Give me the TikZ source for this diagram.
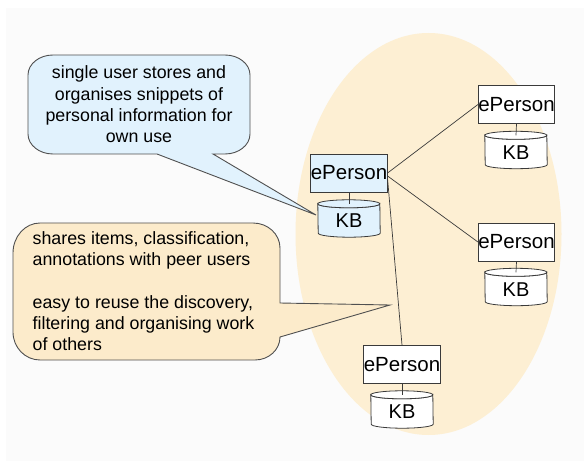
\documentclass[tikz,border=0pt]{standalone}
\usepackage{fontspec}
\setmainfont{Liberation Sans}
\definecolor{pagegray}{HTML}{FBFBFB}
\definecolor{groupfill}{HTML}{FDEFD3}
\definecolor{bluefill}{HTML}{E1F2FD}
\definecolor{tanfill}{HTML}{FCEBCB}
\definecolor{calloutline}{HTML}{505050}
\definecolor{boxline}{HTML}{3A3A3A}
\tikzset{
  txt/.style={font=\fontsize{17.8bp}{21.3bp}\selectfont},
  personbox/.style={draw=boxline, line width=0.8bp, fill=white, minimum width=76bp,
    minimum height=38bp, inner sep=0bp, font=\fontsize{20.5bp}{23bp}\selectfont},
  kbnode/.style={minimum width=62bp, minimum height=37bp, inner sep=0bp,
    font=\fontsize{20bp}{23bp}\selectfont},
  link/.style={draw=boxline, line width=0.7bp},
  callout/.style={draw=calloutline, line width=0.9bp},
}
% cylinder drawn around a named KB node: #1 node name, #2 fill colour
\newcommand\kbcylinder[2]{%
  \filldraw[draw=boxline, line width=0.8bp, fill=#2]
    ([yshift=-4bp]#1.north west)
    arc[start angle=180, end angle=360, x radius=31bp, y radius=4bp]
    -- ([yshift=4bp]#1.south east)
    arc[start angle=0, end angle=-180, x radius=31bp, y radius=4bp]
    -- cycle;
  \filldraw[draw=boxline, line width=0.8bp, fill=#2]
    ([yshift=-4bp]#1.north west)
    arc[start angle=180, end angle=0, x radius=31bp, y radius=4bp]
    arc[start angle=0, end angle=-180, x radius=31bp, y radius=4bp];
}
\begin{document}
\begin{tikzpicture}[x=1bp, y=1bp]
  \useasboundingbox (0,0) rectangle (586,-462);
  \fill[white] (0,0) rectangle (586,-462);
  \fill[pagegray] (6,-8) rectangle (584,-461);

  % peer group
  \fill[groupfill] (428.5,-234) ellipse[x radius=133, y radius=201];

  % callout: personal use
  \filldraw[callout, fill=bluefill]
    (157,-154) -- (316,-215) -- (213,-154) -- (225,-154)
    arc[start angle=270, end angle=360, x radius=25, y radius=20] -- (250,-75)
    arc[start angle=0, end angle=90, x radius=25, y radius=20] -- (53,-55)
    arc[start angle=90, end angle=180, x radius=25, y radius=20] -- (28,-134)
    arc[start angle=180, end angle=270, x radius=25, y radius=20] -- cycle;
  \node[txt, align=center, inner sep=0bp] (note1) at (139,-104.5)
    {single user stores and\\organises snippets of\\personal information for\\own use};

  % callout: sharing with peers
  \filldraw[callout, fill=tanfill]
    (280,-303) -- (390,-305) -- (280,-337)
    arc[start angle=0, end angle=-90, x radius=25, y radius=23] -- (40,-360)
    arc[start angle=270, end angle=180, x radius=27, y radius=28] -- (13,-253)
    arc[start angle=180, end angle=90, x radius=27, y radius=30] -- (253,-223)
    arc[start angle=90, end angle=0, x radius=27, y radius=25] -- cycle;
  \node[txt, align=left, anchor=west, inner sep=0bp] (note2) at (32.5,-291)
    {shares items, classification,\\annotations with peer users\\[21.3bp]easy to reuse the discovery,\\filtering and organising work\\of others};

  % ePerson nodes
  \node[personbox, fill=bluefill] (p0) at (349,-173) {ePerson};
  \node[personbox] (p1) at (516.5,-104.5) {ePerson};
  \node[personbox] (p2) at (516.5,-242) {ePerson};
  \node[personbox] (p3) at (402,-364.5) {ePerson};

  % knowledge bases
  \node[kbnode] (kb0) at (349,-218.5) {};
  \node[kbnode] (kb1) at (516,-150) {};
  \node[kbnode] (kb2) at (516,-287) {};
  \node[kbnode] (kb3) at (402,-409.5) {};
  \kbcylinder{kb0}{bluefill}
  \kbcylinder{kb1}{white}
  \kbcylinder{kb2}{white}
  \kbcylinder{kb3}{white}
  \foreach \k in {kb0,kb1,kb2,kb3}
    \node[kbnode] at ([yshift=-2.5bp]\k.center) {KB};

  % links between persons and their stores
  \draw[link] (p0.south) -- ([yshift=-4bp]kb0.north);
  \draw[link] (p1.south) -- ([yshift=-4bp]kb1.north);
  \draw[link] (p2.south) -- ([yshift=-4bp]kb2.north);
  \draw[link] (p3.south) -- ([yshift=-4bp]kb3.north);

  % peer links
  \draw[link] (p0.east) -- (p1.west);
  \draw[link] ([yshift=-3bp]p0.east) -- (p2.west);
  \draw[link] ([yshift=-6bp]p0.east) -- (p3.north);
\end{tikzpicture}
\end{document}
